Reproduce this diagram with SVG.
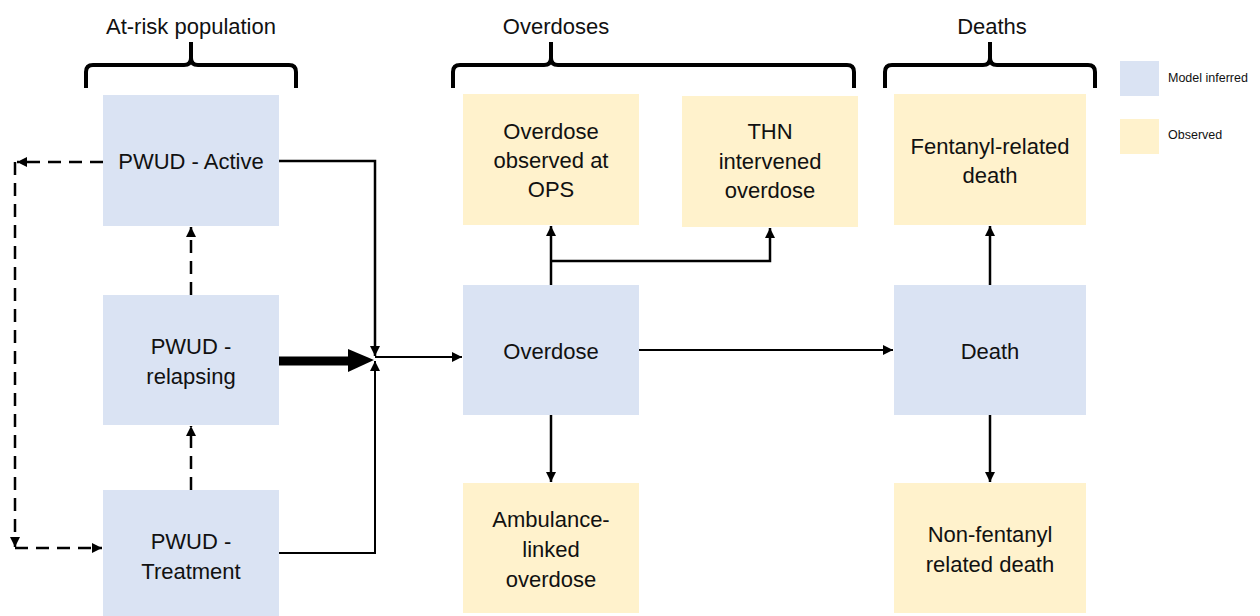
<svg xmlns="http://www.w3.org/2000/svg" width="1260" height="616" viewBox="0 0 1260 616">
<defs>
<style>
.blue{fill:#DAE3F3}
.yel{fill:#FFF2CC}
.t{font-family:"Liberation Sans",Arial,sans-serif;font-size:22px;fill:#111;text-anchor:middle;dominant-baseline:central}
.h{font-family:"Liberation Sans",Arial,sans-serif;font-size:22px;fill:#111;text-anchor:middle}
.lg{font-family:"Liberation Sans",Arial,sans-serif;font-size:12.5px;fill:#111;dominant-baseline:central}
.brace{fill:none;stroke:#000;stroke-width:4}
.ln{fill:none;stroke:#000;stroke-width:2.5}
.thin{fill:none;stroke:#000;stroke-width:2}
.dash{fill:none;stroke:#000;stroke-width:2.5;stroke-dasharray:13 8}
</style>
<marker id="ah" viewBox="0 0 10 10" refX="10" refY="5" markerWidth="4" markerHeight="4" orient="auto" markerUnits="strokeWidth">
<path d="M0,0 L10,5 L0,10 z" fill="#000"/>
</marker>
<marker id="ahs" viewBox="0 0 10 10" refX="10" refY="5" markerWidth="5" markerHeight="5" orient="auto" markerUnits="strokeWidth">
<path d="M0,0 L10,5 L0,10 z" fill="#000"/>
</marker>
</defs>

<g id="headers">
<text class="h" x="191" y="34">At-risk population</text>
<text class="h" x="556" y="34">Overdoses</text>
<text class="h" x="992" y="34">Deaths</text>
<path class="brace" d="M86,88 L86,72 Q86,65 93,65 L184,65 Q191,65 191,58 L191,42 M191,58 Q191,65 198,65 L289,65 Q296,65 296,72 L296,88"/>
<path class="brace" d="M453,88 L453,72 Q453,65 460,65 L544,65 Q551,65 551,58 L551,42 M551,58 Q551,65 558,65 L847,65 Q854,65 854,72 L854,88"/>
<path class="brace" d="M885,88 L885,72 Q885,65 892,65 L983,65 Q990,65 990,58 L990,42 M990,58 Q990,65 997,65 L1088,65 Q1095,65 1095,72 L1095,88"/>
</g>

<g id="legend">
<rect class="blue" x="1120" y="61" width="39" height="35"/>
<text class="lg" x="1168" y="78">Model inferred</text>
<rect class="yel" x="1120" y="119" width="39" height="35"/>
<text class="lg" x="1168" y="135">Observed</text>
</g>

<g id="connectors">
<path class="ln" d="M279,161 L375,161 L375,356" marker-end="url(#ah)"/>
<path d="M279,361 L350,361" stroke="#000" stroke-width="9" fill="none"/>
<path d="M348,349 L374,360 L348,372 z" fill="#000"/>
<path class="thin" d="M279,553 L375,553 L375,361" marker-end="url(#ahs)"/>
<path class="thin" d="M375,357 L462,357" marker-end="url(#ahs)"/>
<path class="dash" d="M103,162 L17,162" marker-end="url(#ah)"/>
<path class="dash" d="M15,162 L15,547" marker-end="url(#ah)"/>
<path class="dash" d="M15,548 L102,548" marker-end="url(#ah)"/>
<path class="dash" d="M191,295 L191,227" marker-end="url(#ah)"/>
<path class="dash" d="M191,490 L191,426" marker-end="url(#ah)"/>
<path class="ln" d="M551,285 L551,226" marker-end="url(#ah)"/>
<path class="ln" d="M551,261 L770,261 L770,228" marker-end="url(#ah)"/>
<path class="thin" d="M639,350 L893,350" marker-end="url(#ahs)"/>
<path class="ln" d="M551,415 L551,482" marker-end="url(#ah)"/>
<path class="ln" d="M990,285 L990,226" marker-end="url(#ah)"/>
<path class="ln" d="M990,415 L990,482" marker-end="url(#ah)"/>
</g>

<g id="pwud-active">
<rect class="blue" x="103" y="95" width="176" height="131"/>
<text class="t" x="191" y="161">PWUD - Active</text>
</g>
<g id="pwud-relapsing">
<rect class="blue" x="103" y="295" width="176" height="130"/>
<text class="t" x="191" y="346">PWUD -</text>
<text class="t" x="191" y="376">relapsing</text>
</g>
<g id="pwud-treatment">
<rect class="blue" x="103" y="490" width="176" height="126"/>
<text class="t" x="191" y="541">PWUD -</text>
<text class="t" x="191" y="571">Treatment</text>
</g>
<g id="overdose-ops">
<rect class="yel" x="463" y="94" width="176" height="131"/>
<text class="t" x="551" y="131">Overdose</text>
<text class="t" x="551" y="160">observed at</text>
<text class="t" x="551" y="189">OPS</text>
</g>
<g id="thn-overdose">
<rect class="yel" x="682" y="96" width="176" height="131"/>
<text class="t" x="770" y="131">THN</text>
<text class="t" x="770" y="161">intervened</text>
<text class="t" x="770" y="190">overdose</text>
</g>
<g id="overdose">
<rect class="blue" x="463" y="285" width="176" height="130"/>
<text class="t" x="551" y="351">Overdose</text>
</g>
<g id="ambulance-overdose">
<rect class="yel" x="463" y="483" width="176" height="130"/>
<text class="t" x="551" y="519">Ambulance-</text>
<text class="t" x="551" y="549">linked</text>
<text class="t" x="551" y="579">overdose</text>
</g>
<g id="fentanyl-death">
<rect class="yel" x="894" y="94" width="192" height="131"/>
<text class="t" x="990" y="146">Fentanyl-related</text>
<text class="t" x="990" y="175">death</text>
</g>
<g id="death">
<rect class="blue" x="894" y="285" width="192" height="130"/>
<text class="t" x="990" y="351">Death</text>
</g>
<g id="nonfentanyl-death">
<rect class="yel" x="894" y="483" width="192" height="130"/>
<text class="t" x="990" y="534">Non-fentanyl</text>
<text class="t" x="990" y="564">related death</text>
</g>
</svg>
